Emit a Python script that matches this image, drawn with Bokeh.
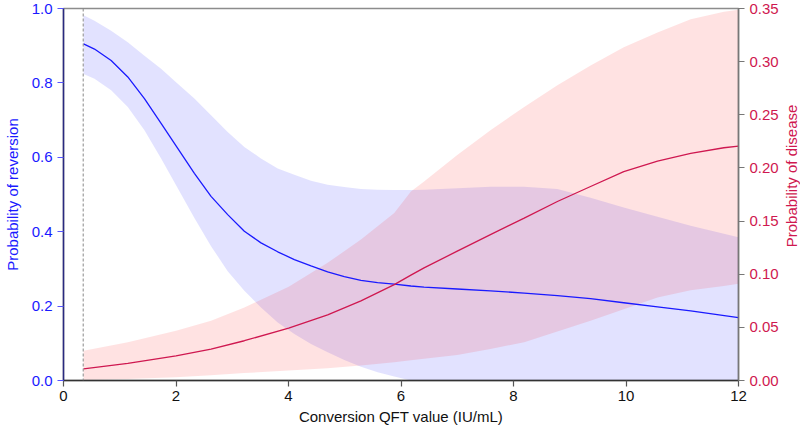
import math
from bokeh.plotting import figure
from bokeh.layouts import row
from bokeh.models import Range1d, LinearAxis, Span, FixedTicker, Label
from bokeh.embed import file_html
from bokeh.resources import INLINE

# Probability of reversion (left axis): estimate and 95% band
rev_x = [0.356, 0.551, 0.847, 1.143, 1.439, 1.735, 2.031, 2.327, 2.623, 2.919, 3.215, 3.511, 3.808,
         4.104, 4.400, 4.696, 4.992, 5.288, 5.584, 5.880, 6.176, 6.41, 7.0, 7.59, 8.19, 8.78, 9.37,
         9.96, 10.56, 11.15, 12.0]
rev_mid = [0.905, 0.891, 0.860, 0.816, 0.758, 0.691, 0.624, 0.557, 0.495, 0.446, 0.401, 0.370, 0.346,
           0.325, 0.308, 0.292, 0.279, 0.269, 0.263, 0.259, 0.254, 0.251, 0.246, 0.241, 0.235, 0.228, 0.220,
           0.209, 0.198, 0.187, 0.169]
rev_hi = [0.982, 0.967, 0.940, 0.909, 0.873, 0.838, 0.798, 0.758, 0.713, 0.668, 0.628, 0.597, 0.570,
          0.553, 0.537, 0.526, 0.520, 0.515, 0.513, 0.512, 0.512, 0.5125, 0.517, 0.5205, 0.521, 0.515, 0.491,
          0.465, 0.440, 0.416, 0.385]
rev_lo = [0.824, 0.811, 0.780, 0.735, 0.673, 0.597, 0.517, 0.437, 0.361, 0.294, 0.241, 0.196, 0.156,
          0.125, 0.098, 0.076, 0.055, 0.037, 0.022, 0.011, 0.0, 0.0, 0.0, 0.0, 0.0, 0.0, 0.0,
          0.0, 0.0, 0.0, 0.0]

# Probability of disease (right axis): estimate and 95% band
dis_x = [0.356, 1.143, 2.0, 2.623, 3.215, 4.003, 4.696, 5.288, 5.880, 6.176, 6.41, 7.0, 7.59, 8.19,
         8.78, 9.37, 9.96, 10.56, 11.15, 11.74, 12.0]
dis_mid = [0.0109, 0.0162, 0.0231, 0.0296, 0.0374, 0.0493, 0.0618, 0.0749, 0.0902, 0.0992, 0.106, 0.1217,
           0.1373, 0.1528, 0.1684, 0.1825, 0.1965, 0.2065, 0.2137, 0.219, 0.2206]
dis_hi = [0.0281, 0.0359, 0.0468, 0.0561, 0.0686, 0.0883, 0.1107, 0.1326, 0.1575, 0.1778, 0.1872, 0.2121,
          0.2355, 0.2574, 0.2777, 0.2964, 0.3135, 0.3275, 0.340, 0.3469, 0.3488]
dis_lo = [0.0006, 0.0015, 0.0031, 0.005, 0.007, 0.0094, 0.0115, 0.014, 0.0172, 0.019, 0.0205, 0.024,
          0.0296, 0.036, 0.046, 0.0561, 0.067, 0.078, 0.0849, 0.089, 0.0911]

threshold = 0.35

x_ticks = [0, 2, 4, 6, 8, 10, 12]
left_ticks = [0.0, 0.2, 0.4, 0.6, 0.8, 1.0]
right_ticks = [0.0, 0.05, 0.10, 0.15, 0.20, 0.25, 0.30, 0.35]

BLUE = "#1a1aff"
RED = "#cf1850"
FONT = "Liberation Sans"
H = 431

p = figure(width=782, height=H, output_backend="svg", toolbar_location=None,
           x_range=Range1d(0, 12), y_range=Range1d(0, 1),
           min_border_left=62, min_border_right=44, min_border_top=8, min_border_bottom=51)
p.extra_y_ranges = {"dis": Range1d(0, 0.35)}
p.xgrid.visible = False
p.ygrid.visible = False
p.outline_line_color = "#8c8c8c"
p.outline_line_width = 1.5
p.background_fill_color = "white"
p.border_fill_color = "white"

# bands
p.varea(x=rev_x, y1=rev_lo, y2=rev_hi, fill_color="#0000ff", fill_alpha=0.115)
p.varea(x=dis_x, y1=dis_lo, y2=dis_hi, fill_color="#ff0000", fill_alpha=0.115, y_range_name="dis")

p.line(rev_x, rev_mid, line_color=BLUE, line_width=1.3)
p.line(dis_x, dis_mid, line_color=RED, line_width=1.3, y_range_name="dis")

p.add_layout(Span(location=threshold, dimension="height", line_color="#888888",
                  line_dash="3 2", line_width=1))

def style(ax, lab_color, line_color, tick_color):
    ax.axis_label_text_font = FONT
    ax.axis_label_text_font_size = "15px"
    ax.axis_label_text_font_style = "normal"
    ax.major_label_text_font = FONT
    ax.major_label_text_font_size = "15px"
    ax.major_label_text_color = lab_color
    ax.axis_label_text_color = lab_color
    ax.axis_line_color = line_color
    ax.axis_line_width = 1.5
    ax.major_tick_line_color = tick_color
    ax.major_tick_line_width = 1.2
    ax.major_tick_out = 6
    ax.major_tick_in = 0
    ax.minor_tick_line_color = None
    ax.major_label_standoff = 4

xa = p.xaxis[0]
xa.ticker = FixedTicker(ticks=x_ticks)
xa.axis_label = "Conversion QFT value (IU/mL)"
style(xa, "#111111", "#333333", "#555555")
xa.major_label_standoff = 4
xa.axis_label_standoff = 4

ya = p.yaxis[0]
ya.ticker = FixedTicker(ticks=left_ticks)
ya.axis_label = "Probability of reversion"
style(ya, BLUE, "#2a2a80", "#5555ff")
ya.major_label_standoff = 5
ya.axis_label_standoff = 8
ya.major_label_overrides = {t: "%.1f" % t for t in left_ticks}

ra = LinearAxis(y_range_name="dis")
ra.ticker = FixedTicker(ticks=right_ticks)
ra.major_label_overrides = {t: "%.2f" % t for t in right_ticks}
style(ra, RED, "#777777", "#777777")
ra.major_label_standoff = 5
p.add_layout(ra, "right")

# narrow strip holding the right-hand axis title (reads bottom to top)
t = figure(width=800 - 782, height=H, output_backend="svg", toolbar_location=None,
           x_range=Range1d(0, 1), y_range=Range1d(0, H),
           min_border_left=0, min_border_right=0, min_border_top=0, min_border_bottom=0)
t.axis.visible = False
t.grid.visible = False
t.outline_line_color = None
t.background_fill_color = "white"
t.border_fill_color = "white"
t.add_layout(Label(x=0.5, y=H - 194, text="Probability of disease", angle=math.pi / 2,
                   text_align="center", text_baseline="middle",
                   text_font=FONT, text_font_size="15px", text_color=RED))

layout = row(p, t, spacing=0)
open("out.html", "w").write(file_html(layout, INLINE))
